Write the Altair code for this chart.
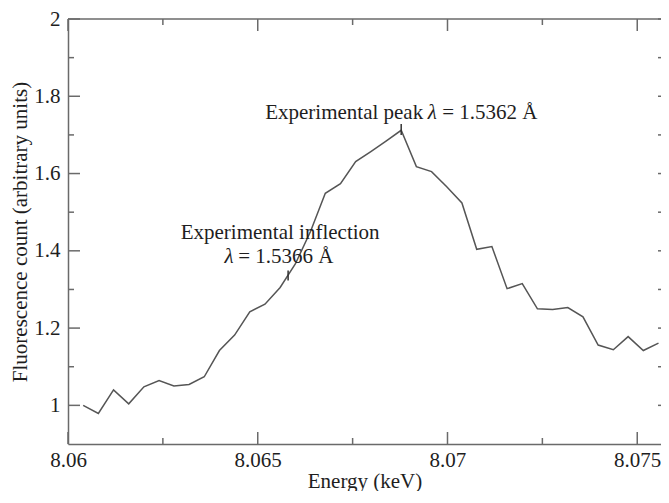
import altair as alt
import pandas as pd

# ---- data ----
energy = [8.06040, 8.06080, 8.06120, 8.06160, 8.06200, 8.06240, 8.06279, 8.06319,
          8.06359, 8.06399, 8.06439, 8.06479, 8.06519, 8.06559, 8.06599, 8.06639,
          8.06678, 8.06718, 8.06758, 8.06798, 8.06838, 8.06878, 8.06918, 8.06958,
          8.06998, 8.07038, 8.07077, 8.07117, 8.07157, 8.07197, 8.07237, 8.07277,
          8.07317, 8.07357, 8.07397, 8.07437, 8.07476, 8.07516, 8.07556]
counts = [1.000, 0.979, 1.040, 1.004, 1.048, 1.064, 1.050, 1.054,
          1.074, 1.142, 1.182, 1.242, 1.262, 1.305, 1.366, 1.450,
          1.549, 1.574, 1.631, 1.657, 1.684, 1.712, 1.618, 1.605,
          1.566, 1.524, 1.404, 1.411, 1.302, 1.315, 1.250, 1.248,
          1.253, 1.229, 1.156, 1.144, 1.178, 1.142, 1.161]

x_major = [8.06, 8.065, 8.07, 8.075]
x_minor = [8.0625, 8.0675, 8.0725]
y_major = [1.0, 1.2, 1.4, 1.6, 1.8, 2.0]
y_minor = [1.1, 1.3, 1.5, 1.7, 1.9]

x_domain = [8.06, 8.075626]
y_domain = [0.9, 2.0]

X_TITLE = "Energy (keV)"
Y_TITLE = "Fluorescence count (arbitrary units)"

# annotation anchors (data coordinates)
peak_x = 8.06878
peak_text_y = 1.741
peak_tick = [1.700, 1.728]
infl_x_text = 8.06559
infl_line1_y = 1.4308
infl_line2_y = 1.3692
infl_tick_x = 8.0658
infl_tick = [1.323, 1.349]

W, H = 593, 425
FONT = "Liberation Serif"
FS = 21
TXT = "#1e1e1e"
FRAME = "#6a6a6a"

xs = alt.Scale(domain=x_domain, nice=False, zero=False)
ys = alt.Scale(domain=y_domain, nice=False, zero=False)

df = pd.DataFrame({"energy": energy, "count": counts})

axis_style = dict(
    grid=False, ticks=False,
    domainColor=FRAME, domainWidth=1.5,
    labelFont=FONT, labelFontSize=FS, labelColor=TXT,
    titleFont=FONT, titleFontSize=FS, titleColor=TXT, titleFontWeight="normal",
    labelOverlap=False, labelBound=False, labelFlush=False,
)

line = alt.Chart(df).mark_line(color="#555555", strokeWidth=1.5).encode(
    x=alt.X("energy:Q", scale=xs,
            axis=alt.Axis(values=x_major, format=".3~f", title=X_TITLE,
                          labelPadding=5, titlePadding=0, **axis_style)),
    y=alt.Y("count:Q", scale=ys,
            axis=alt.Axis(values=y_major, format=".1~f", title=Y_TITLE,
                          labelPadding=8, titlePadding=3, **axis_style)),
)

def X(field):
    return alt.X(field, scale=xs, title=X_TITLE)

def Y(field):
    return alt.Y(field, scale=ys, title=Y_TITLE)

# frame top edge
top_border = alt.Chart(pd.DataFrame({"a": [0]})).mark_rule(
    color=FRAME, strokeWidth=1.5).encode(
    x=alt.value(0), x2=alt.value(W), y=alt.value(0))

def xticks(vals, length):
    d = pd.DataFrame({"t": vals})
    bottom = alt.Chart(d).mark_rule(color=FRAME, strokeWidth=1.5).encode(
        x=X("t:Q"), y=alt.value(H), y2=alt.value(H - length))
    top = alt.Chart(d).mark_rule(color=FRAME, strokeWidth=1.5).encode(
        x=X("t:Q"), y=alt.value(0), y2=alt.value(length))
    return [bottom, top]

def yticks(vals, length):
    d = pd.DataFrame({"t": vals})
    left = alt.Chart(d).mark_rule(color=FRAME, strokeWidth=1.5).encode(
        y=Y("t:Q"), x=alt.value(0), x2=alt.value(length))
    right = alt.Chart(d).mark_rule(color=FRAME, strokeWidth=1.5).encode(
        y=Y("t:Q"), x=alt.value(W), x2=alt.value(W - 3))
    return [left, right]

tick_layers = xticks(x_major, 12) + xticks(x_minor, 6) + yticks(y_major, 12) + yticks(y_minor, 6)

# annotation ticks
ann_ticks = alt.Chart(pd.DataFrame({
    "x": [peak_x, infl_tick_x],
    "y1": [peak_tick[0], infl_tick[0]],
    "y2": [peak_tick[1], infl_tick[1]],
})).mark_rule(color="#333333", strokeWidth=1.5).encode(
    x=X("x:Q"),
    y=Y("y1:Q"),
    y2="y2:Q",
)

def txt(label, x, y, align, dx=0, italic=False):
    return alt.Chart(pd.DataFrame({"x": [x], "y": [y], "label": [label]})).mark_text(
        font=FONT, fontSize=FS, color=TXT, align=align, baseline="alphabetic",
        dx=dx, fontStyle="italic" if italic else "normal").encode(
        x=X("x:Q"),
        y=Y("y:Q"),
        text="label:N")

texts = [
    txt("Experimental peak", peak_x, peak_text_y, "right", dx=22),
    txt("λ", peak_x, peak_text_y, "center", dx=31, italic=True),
    txt("= 1.5362 Å", peak_x, peak_text_y, "left", dx=41),
    txt("Experimental inflection", infl_x_text, infl_line1_y, "center"),
    txt("λ", infl_x_text, infl_line2_y, "center", dx=-51, italic=True),
    txt("= 1.5366 Å", infl_x_text, infl_line2_y, "left", dx=-42),
]

chart = alt.layer(line, top_border, *tick_layers, ann_ticks, *texts).properties(
    width=W, height=H,
    autosize=alt.AutoSizeParams(type="none"),
    padding={"left": 60, "top": 11, "right": 0, "bottom": 47},
    background="white",
).configure_view(stroke=None)

chart.save("out.html", embed_options={"renderer": "svg", "actions": False})
